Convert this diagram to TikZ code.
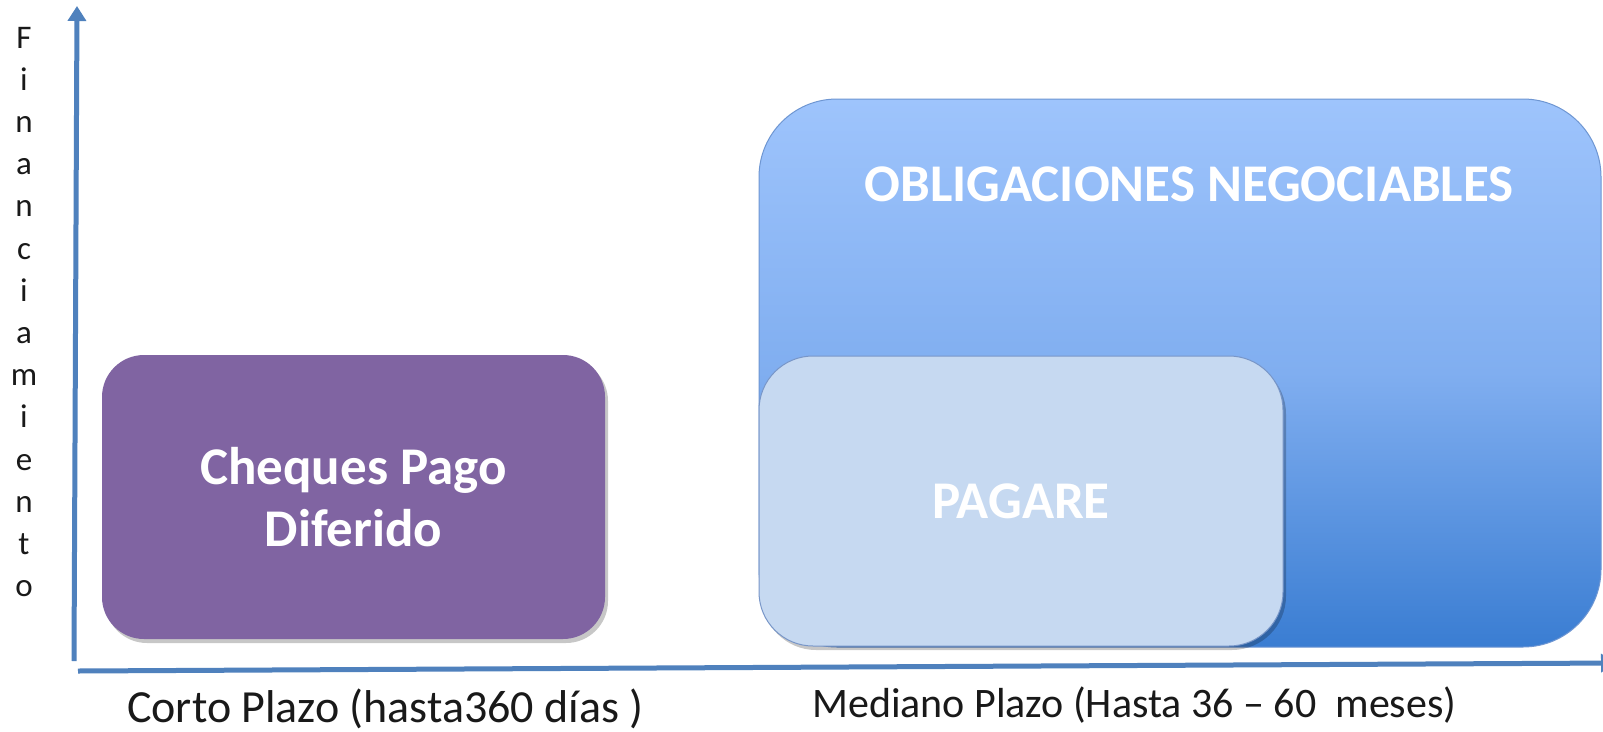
\documentclass[tikz,border=0pt]{standalone}
\usepackage{fontspec}
\setmainfont{Carlito}
\usetikzlibrary{arrows.meta,shadows}
\definecolor{axisblue}{RGB}{79,129,189}
\definecolor{purplebox}{RGB}{128,100,162}
\definecolor{onTop}{RGB}{158,196,252}
\definecolor{onMid}{RGB}{128,174,240}
\definecolor{onBot}{RGB}{58,125,210}
\definecolor{onEdge}{RGB}{110,150,210}
\definecolor{pagFill}{RGB}{198,217,241}
\definecolor{pagEdge}{RGB}{120,150,200}
\definecolor{txtdark}{RGB}{25,25,25}
\begin{document}
\begin{tikzpicture}[x=1pt,y=-1pt,
  axisline/.style={draw=axisblue,line width=5pt,-{Triangle[width=18pt,length=15pt]}},
  boxshadow/.style={drop shadow={shadow xshift=3pt,shadow yshift=-4pt,opacity=0.22,fill=black}},
  bigtext/.style={text=white,font=\fontsize{53}{62}\selectfont\bfseries,inner sep=0pt},
  vlet/.style={text=txtdark,font=\fontsize{33}{33}\selectfont,inner sep=0pt,anchor=base},
  axlabel/.style={text=txtdark,font=\fontsize{42}{50}\selectfont,inner sep=0pt,anchor=base west},
  purplebx/.style={fill=purplebox,draw=none,rounded corners=42pt,minimum width=503pt,minimum height=284pt,inner sep=0pt,outer sep=0pt,boxshadow},
  onbx/.style={top color=onTop,bottom color=onBot,middle color=onMid,draw=onEdge,line width=1pt,rounded corners=78pt,minimum width=842pt,minimum height=548pt,inner sep=0pt,outer sep=0pt},
  pagbx/.style={fill=pagFill,draw=pagEdge,line width=1pt,rounded corners=54pt,minimum width=524pt,minimum height=290pt,inner sep=0pt,outer sep=0pt,boxshadow}
]
\useasboundingbox (0,0) rectangle (1603,731);
\fill[white] (0,0) rectangle (1603,731);

% boxes
\node[purplebx] (cheq) at (353.5,497) {};
\node[bigtext,align=center] (cheqtext) at (cheq.center) {Cheques Pago\\Diferido};

\node[onbx] (onbox) at (1180,373) {};
\node[bigtext] (ontext) at (1189,184) {OBLIGACIONES NEGOCIABLES};

\node[pagbx] (pag) at (1021,501) {};
\node[bigtext] (pagtext) at (pag.center) {PAGARE};

% axes
\coordinate (yb) at (74,661);
\coordinate (yt) at (77,6);
\coordinate (xl) at (78,671);
\coordinate (xr) at (1616,663);
\draw[axisline] (yb) -- (yt);
\draw[axisline] (xl) -- (xr);

% vertical label
\foreach \ch [count=\i from 0] in {F,i,n,a,n,c,i,a,m,i,e,n,t,o}
  \node[vlet] (v\i) at (24,48+42.2*\i) {\ch};

% axis labels
\node[axlabel,font=\fontsize{46}{54}\selectfont] (corto) at (127,722) {Corto Plazo (hasta360 días )};
\node[axlabel] (mediano) at (812,717) {Mediano Plazo (Hasta 36 – 60~~meses)};
\end{tikzpicture}
\end{document}
